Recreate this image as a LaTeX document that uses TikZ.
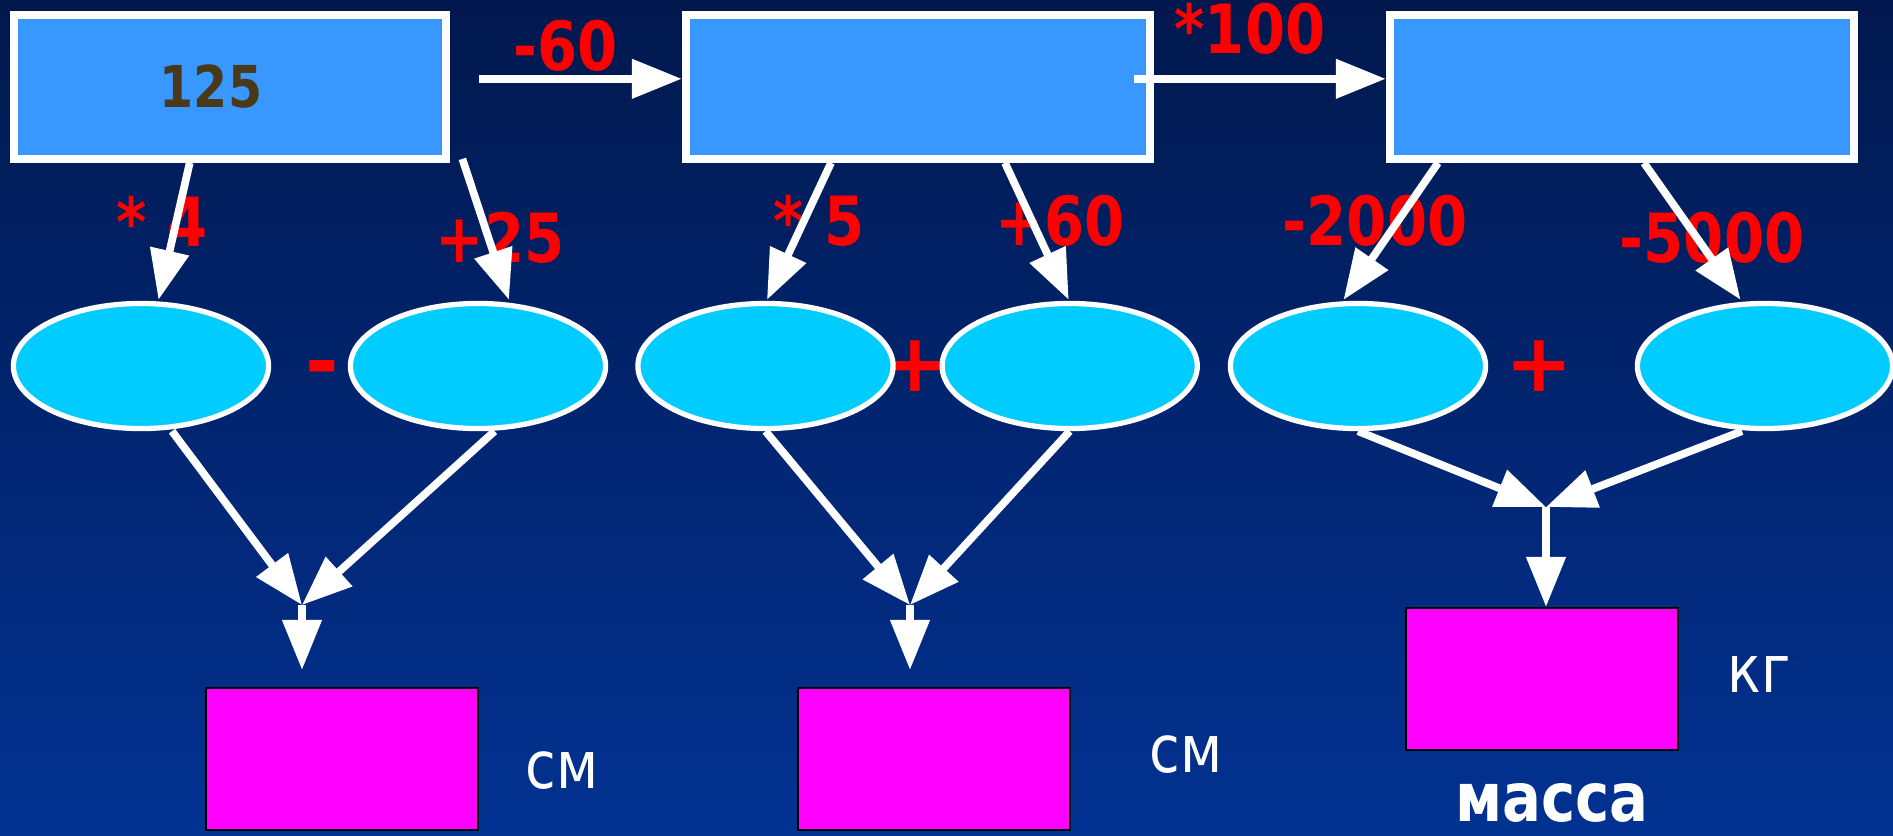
\documentclass[tikz,border=0pt]{standalone}
\usepackage{fontspec}
\setmainfont[FakeStretch=0.85]{DejaVu Sans}
\newfontfamily\signfont{DejaVu Sans}
\usetikzlibrary{arrows.meta,shapes.geometric}
\definecolor{bgtop}{RGB}{1,24,78}
\definecolor{bgbottom}{RGB}{2,50,146}
\definecolor{boxblue}{RGB}{56,152,255}
\definecolor{ovalcyan}{RGB}{0,204,255}
\definecolor{resmagenta}{RGB}{255,0,255}
\definecolor{numbrown}{RGB}{74,56,26}
\begin{document}
\begin{tikzpicture}
[x=0.01cm, y=-0.01cm,
 stepbox/.style={draw=white, line width=2.3pt, fill=boxblue,
                 minimum height=1.44cm, inner sep=0pt},
 oval/.style={ellipse, draw=white, line width=1.5pt, fill=ovalcyan,
              minimum width=2.55cm, minimum height=1.25cm, inner sep=0pt},
 result/.style={draw=black, line width=0.6pt, fill=resmagenta,
                minimum width=2.71cm, minimum height=1.42cm, inner sep=0pt},
 flow/.style={white, line width=2.2pt,
              -{Triangle[length=0.50cm,width=0.38cm]}},
 oplabel/.style={red, inner sep=0pt,
                 font=\bfseries\fontsize{19.3}{21}\selectfont},
 sign/.style={red, inner sep=0pt, anchor=base,
              font=\signfont\bfseries\fontsize{23}{25}\selectfont},
 unit/.style={white, inner sep=0pt, font=\fontsize{18.7}{20}\selectfont}]
\useasboundingbox (0,0) rectangle (1893,836);
\fill[top color=bgtop, bottom color=bgbottom] (0,0) rectangle (1893,836);

% operations
\node[oplabel] (sub60) at (566,46) {-60};
\node[oplabel] (mul100) at (1250,29) {*100};
\node[oplabel] (mul4) at (162,221) {* 4};
\node[oplabel] (add25) at (500,238) {+25};
\node[oplabel] (mul5) at (819,221) {* 5};
\node[oplabel] (add60) at (1060,221) {+60};
\node[oplabel] (sub2000) at (1375,221) {-2000};
\node[oplabel] (sub5000) at (1712,238) {-5000};

\node[sign] (minus) at (322,389) {-};
\node[sign] (plusA) at (915,391) {+};
\node[sign] (plusB) at (1539,391) {+};

% ovals
\node[oval] (e1) at (141,366) {};
\node[oval] (e2) at (478,366) {};
\node[oval] (e3) at (765.5,366) {};
\node[oval] (e4) at (1069.7,366) {};
\node[oval] (e5) at (1358,366) {};
\node[oval] (e6) at (1765,366) {};

% boxes
\node[stepbox, minimum width=4.32cm] (boxA) at (229.7,86.8) {};
\node[stepbox, minimum width=4.64cm] (boxB) at (918,86.8) {};
\node[stepbox, minimum width=4.64cm] (boxC) at (1622,86.8) {};
\node[numbrown, inner sep=0pt, font=\bfseries\fontsize{16.4}{18}\selectfont]
  (start) at (211,87) {125};

\node[result] (res1) at (342,759) {};
\node[result] (res2) at (934,759) {};
\node[result] (res3) at (1542,679) {};
\node[unit] (cm1) at (562,771) {см};
\node[unit] (cm2) at (1186,755) {см};
\node[unit] (kg) at (1759,675) {кг};
\node[unit, font=\bfseries\fontsize{19.3}{21}\selectfont] (mass) at (1552,803) {масса};

\coordinate (join1) at (302,605);
\coordinate (join2) at (910,605);
\coordinate (join3) at (1546,507);

% arrows
\draw[flow] ([shift={(29,-8)}]boxA.east) -- ([shift={(0,-8)}]boxB.west);
\draw[flow] ([shift={(-20,-8)}]boxB.east) -- ([shift={(0,-8)}]boxC.west);

\draw[flow] ([shift={(-40,0)}]boxA.south) -- ([shift={(17.5,-1)}]e1.north);
\draw[flow] ([shift={(12.5,-4)}]boxA.south east) -- ([shift={(31,-1)}]e2.north);
\draw[flow] ([shift={(-87,0)}]boxB.south) -- ([shift={(1.5,-1)}]e3.north);
\draw[flow] ([shift={(87,0)}]boxB.south) -- ([shift={(-1,-1)}]e4.north);
\draw[flow] ([shift={(-184,0)}]boxC.south) -- ([shift={(-14.5,-1)}]e5.north);
\draw[flow] ([shift={(22,0)}]boxC.south) -- ([shift={(-24.4,-1)}]e6.north);

\draw[flow] ([shift={(31,0)}]e1.south) -- (join1);
\draw[flow] ([shift={(16.6,0)}]e2.south) -- (join1);
\draw[flow] (join1) -- ([shift={(-40,-17)}]res1.north);

\draw[flow] (e3.south) -- (join2);
\draw[flow] (e4.south) -- (join2);
\draw[flow] (join2) -- ([shift={(-24,-17)}]res2.north);

\draw[flow] (e5.south) -- (join3);
\draw[flow] ([shift={(-23,0)}]e6.south) -- (join3);
\draw[flow] (join3) -- (join3 |- res3.north);
\end{tikzpicture}
\end{document}
